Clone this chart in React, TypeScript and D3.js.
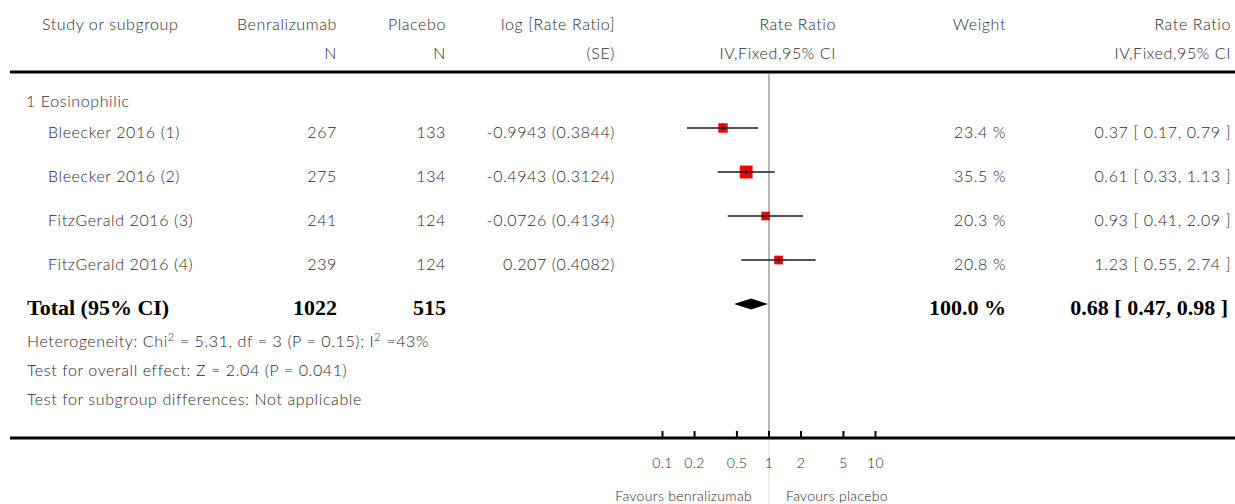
import React from "react";
import * as d3 from "d3";

const studies = ["Bleecker 2016 (1)", "Bleecker 2016 (2)", "FitzGerald 2016 (3)", "FitzGerald 2016 (4)"];
const benraN = [267, 275, 241, 239];
const placeboN = [133, 134, 124, 124];
const logRR = ["-0.9943 (0.3844)", "-0.4943 (0.3124)", "-0.0726 (0.4134)", "0.207 (0.4082)"];
const weights = [23.4, 35.5, 20.3, 20.8];
const rr = [0.37, 0.61, 0.93, 1.23];
const lower = [0.17, 0.33, 0.41, 0.55];
const upper = [0.79, 1.13, 2.09, 2.74];
const total = { n1: 1022, n2: 515, weight: "100.0 %", rr: 0.68, lo: 0.47, hi: 0.98 };
const tickValues = [0.1, 0.2, 0.5, 1, 2, 5, 10];
const tickLabels = ["0.1", "0.2", "0.5", "1", "2", "5", "10"];

const W = 1235;
const H = 504;
const SANS = "Lato, 'Open Sans', sans-serif";
const SERIF = "'Liberation Serif', 'DejaVu Serif', serif";
const TXT = "#2a2a2a";

const x = d3.scaleLog().domain([0.1, 10]).range([662.5, 875.5]);
const rowY = d3.scalePoint<number>().domain([0, 1, 2, 3, 4]).range([128, 304]);
const boxSize = d3.scaleLinear().domain([20, 36]).range([8.5, 13]);

const fmt2 = d3.format(".2f");
const ci = (r: number, l: number, h: number) => `${fmt2(r)} [ ${fmt2(l)}, ${fmt2(h)} ]`;

const COL = { name: 48, n1: 337, n2: 446, log: 615, rrHead: 836, w: 1006, rr: 1231 };

export default function App() {
  const t = (xx: number, y: number, s: string, anchor: "start" | "end" | "middle" = "start") => (
    <text x={xx} y={y} textAnchor={anchor} fontFamily={SANS} fontWeight={300} fontSize={16} letterSpacing={0.6} fill={TXT}>
      {s}
    </text>
  );
  const dy = rowY(4)!;
  const diamond = `M${x(total.lo)},${dy} L${x(total.rr)},${dy - 5.5} L${x(total.hi)},${dy} L${x(total.rr)},${dy + 5.5} Z`;
  return (
    <svg width={W} height={H} style={{ position: "absolute", left: 0, top: 0, background: "#fff" }}>
      {/* header */}
      {t(42, 30, "Study or subgroup")}
      {t(COL.n1, 30, "Benralizumab", "end")}
      {t(COL.n2, 30, "Placebo", "end")}
      {t(COL.log, 30, "log [Rate Ratio]", "end")}
      {t(COL.rrHead, 30, "Rate Ratio", "end")}
      {t(COL.w, 30, "Weight", "end")}
      {t(COL.rr, 30, "Rate Ratio", "end")}
      {t(COL.n1, 59, "N", "end")}
      {t(COL.n2, 59, "N", "end")}
      {t(COL.log, 59, "(SE)", "end")}
      {t(COL.rrHead, 59, "IV,Fixed,95% CI", "end")}
      {t(COL.rr, 59, "IV,Fixed,95% CI", "end")}
      <line x1={10} x2={W} y1={72} y2={72} stroke="#000" strokeWidth={3} />

      {/* null line */}
      <line x1={x(1)} x2={x(1)} y1={73} y2={438} stroke="#8a8a8a" strokeWidth={1.2} />
      <line x1={x(1)} x2={x(1)} y1={439} y2={H} stroke="#e2e2e2" strokeWidth={1} />

      {t(26, 107, "1 Eosinophilic")}

      {studies.map((s, i) => {
        const y = rowY(i)!;
        const b = boxSize(weights[i]);
        return (
          <g key={s}>
            {t(COL.name, y + 10, s)}
            {t(COL.n1, y + 10, String(benraN[i]), "end")}
            {t(COL.n2, y + 10, String(placeboN[i]), "end")}
            {t(COL.log, y + 10, logRR[i], "end")}
            {t(COL.w, y + 10, `${weights[i].toFixed(1)} %`, "end")}
            {t(COL.rr, y + 10, ci(rr[i], lower[i], upper[i]), "end")}
            <rect x={x(rr[i]) - b / 2} y={y - b / 2} width={b} height={b} fill="#ff0000" />
            <line x1={x(lower[i])} x2={x(upper[i])} y1={y} y2={y} stroke="#1a1a1a" strokeWidth={1.4} />
            <line x1={x(rr[i])} x2={x(rr[i])} y1={y - 2.5} y2={y + 2.5} stroke="#1a1a1a" strokeWidth={1.2} />
          </g>
        );
      })}

      {/* total */}
      <g fontFamily={SERIF} fontWeight="bold" fontSize={22} fill="#000">
        <text x={27} y={dy + 11}>Total (95% CI)</text>
        <text x={COL.n1} y={dy + 11} textAnchor="end">{total.n1}</text>
        <text x={COL.n2} y={dy + 11} textAnchor="end">{total.n2}</text>
        <text x={COL.w} y={dy + 11} textAnchor="end">{total.weight}</text>
        <text x={COL.rr - 3} y={dy + 11} textAnchor="end">{ci(total.rr, total.lo, total.hi)}</text>
      </g>
      <path d={diamond} fill="#000" />

      <text x={27} y={347} fontFamily={SANS} fontWeight={300} fontSize={16} letterSpacing={0.6} fill={TXT}>
        Heterogeneity: Chi<tspan dy={-6} fontSize={11}>2</tspan>
        <tspan dy={6}> = 5.31, df = 3 (P = 0.15); I</tspan>
        <tspan dy={-6} fontSize={11}>2</tspan>
        <tspan dy={6}> =43%</tspan>
      </text>
      {t(27, 376, "Test for overall effect: Z = 2.04 (P = 0.041)")}
      {t(27, 405, "Test for subgroup differences: Not applicable")}

      {/* axis */}
      <line x1={10} x2={W} y1={438} y2={438} stroke="#000" strokeWidth={3} />
      {tickValues.map((v, i) => (
        <g key={v}>
          <line x1={x(v)} x2={x(v)} y1={431} y2={438} stroke="#000" strokeWidth={2} />
          <text x={x(v)} y={468} textAnchor="middle" fontFamily={SANS} fontWeight={300} fontSize={14} letterSpacing={0.3} fill={TXT}>
            {tickLabels[i]}
          </text>
        </g>
      ))}
      <text x={x(1) - 17} y={501} textAnchor="end" fontFamily={SANS} fontWeight={300} fontSize={14} letterSpacing={0.3} fill={TXT}>
        Favours benralizumab
      </text>
      <text x={x(1) + 17} y={501} textAnchor="start" fontFamily={SANS} fontWeight={300} fontSize={14} letterSpacing={0.3} fill={TXT}>
        Favours placebo
      </text>
    </svg>
  );
}
